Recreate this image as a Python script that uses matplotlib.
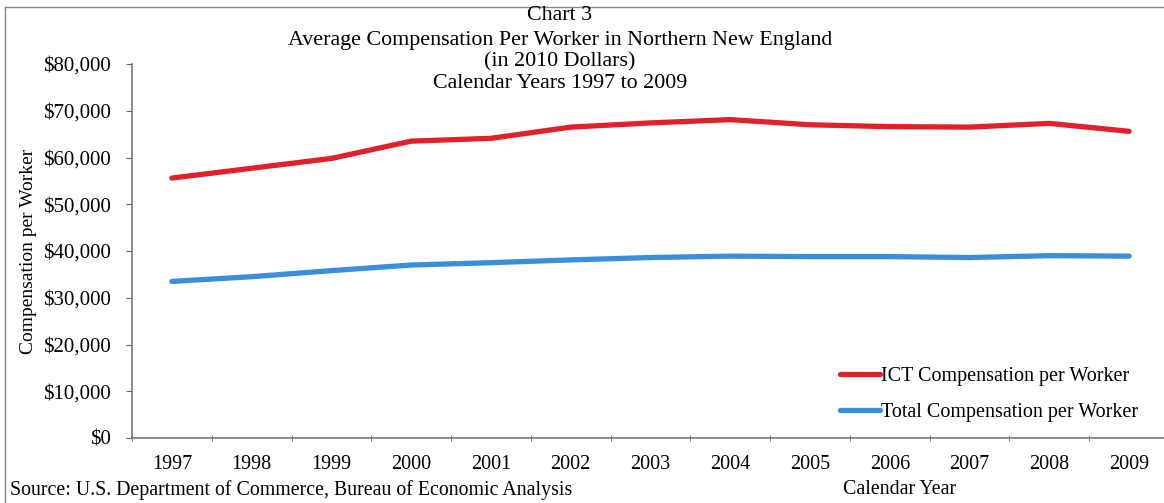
import numpy as np
import matplotlib.pyplot as plt
from matplotlib.lines import Line2D
from matplotlib.ticker import FuncFormatter, MultipleLocator

plt.rcParams['font.family'] = ['Liberation Serif', 'DejaVu Serif']

years = ['1997', '1998', '1999', '2000', '2001', '2002', '2003',
         '2004', '2005', '2006', '2007', '2008', '2009']
ict_comp = [55600, 57700, 59800, 63500, 64100, 66500, 67400,
            68100, 67000, 66600, 66500, 67300, 65600]
total_comp = [33500, 34500, 35800, 37000, 37500, 38100, 38600,
              38900, 38800, 38800, 38600, 39000, 38900]
title_lines = ['Chart 3',
               'Average Compensation Per Worker in Northern New England',
               '(in 2010 Dollars)',
               'Calendar Years 1997 to 2009']

W, H = 1164, 503
fig = plt.figure(figsize=(W / 100, H / 100), dpi=100)
ax = fig.add_axes([132 / W, 1 - 438 / H, 1037 / W, 374 / H])

x = np.arange(len(years))
ax.plot(x, ict_comp, color='#e0202a', lw=3.8, solid_capstyle='round',
        label='ICT Compensation per Worker')
ax.plot(x, total_comp, color='#3a8fdc', lw=3.8, solid_capstyle='round',
        label='Total Compensation per Worker')

ax.set_xlim(-0.5, len(years) - 0.5)
ax.set_ylim(0, 80000)
ax.yaxis.set_major_locator(MultipleLocator(10000))
ax.yaxis.set_major_formatter(FuncFormatter(lambda v, p: '${:,.0f}'.format(v)))
ax.set_xticks(x)
ax.set_xticklabels(years)
ax.set_xticks(np.arange(-0.5, len(years), 1), minor=True)
ax.tick_params(axis='x', which='major', length=0, pad=12, labelsize=14.5)
ax.tick_params(axis='x', which='minor', length=4, direction='inout',
               color='#666666')
ax.tick_params(axis='y', length=4, color='#666666', pad=11, labelsize=15)

for side in ['top', 'right']:
    ax.spines[side].set_visible(False)
for side in ['left', 'bottom']:
    ax.spines[side].set_color('#777777')
    ax.spines[side].set_linewidth(1.2)

ax.set_ylabel('Compensation per Worker', fontsize=14)
ax.yaxis.set_label_coords((37 - 132) / 1037, 0.5)

ax.legend(loc='lower right', bbox_to_anchor=((1146 - 132) / 1037, 0.02),
          frameon=False, fontsize=14.5, handlelength=2.0, handletextpad=0.05,
          labelspacing=0.85, borderaxespad=0)

for line, yc in zip(title_lines, [16, 40, 62, 84]):
    fig.text(560 / W, 1 - yc / H, line, ha='center', va='center',
             fontsize=15.8)

fig.text(10 / W, 1 - 490 / H,
         'Source: U.S. Department of Commerce, Bureau of Economic Analysis',
         ha='left', va='center', fontsize=14.3)
fig.text(900 / W, 1 - 490 / H, 'Calendar Year', ha='center', va='center',
         fontsize=14.3)

# outer chart frame (top and left edges visible)
fig.add_artist(Line2D([5 / W, 5 / W], [0, 1 - 7 / H], transform=fig.transFigure,
                      color='#888888', lw=1))
fig.add_artist(Line2D([5 / W, 1], [1 - 7 / H, 1 - 7 / H],
                      transform=fig.transFigure, color='#888888', lw=1))

fig.savefig('out.png', dpi=100)
